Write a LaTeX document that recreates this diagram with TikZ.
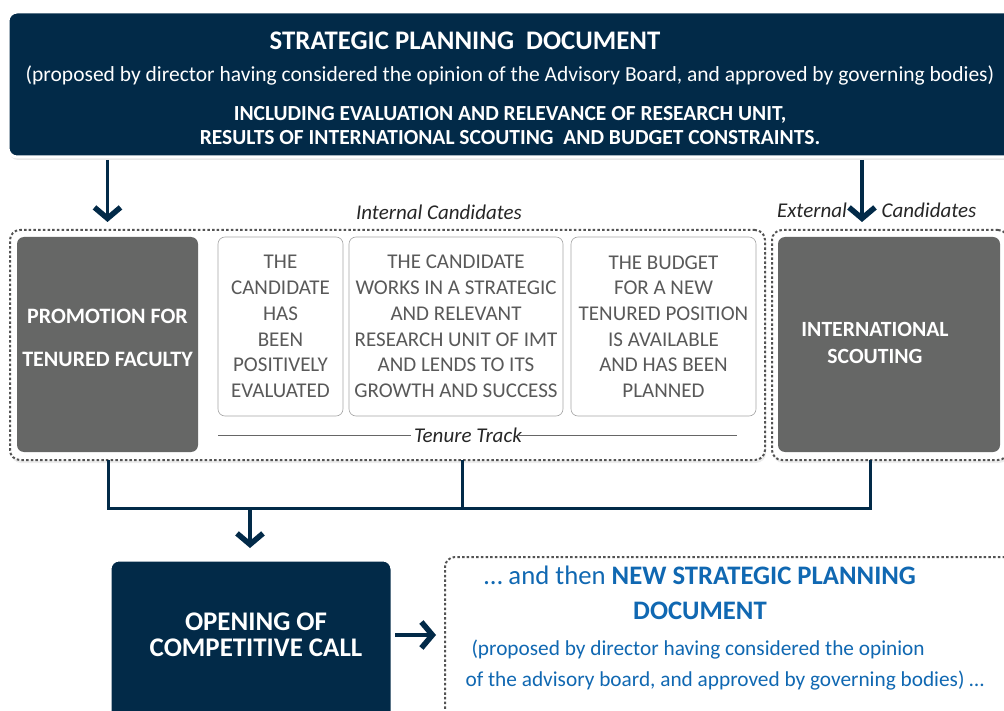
\documentclass[tikz,border=0pt]{standalone}
\usepackage{fontspec}
\setmainfont{Carlito}
\usetikzlibrary{arrows.meta,positioning,shadows}
\definecolor{navy}{RGB}{2,42,72}
\definecolor{slate}{RGB}{102,103,102}
\definecolor{inkgray}{RGB}{89,89,89}
\definecolor{linkblue}{RGB}{16,104,178}

\begin{document}
\begin{tikzpicture}[x=1pt, y=-1pt,
  navybox/.style={rectangle, fill=navy, draw=white, line width=3pt,
                  rounded corners=9pt, inner sep=0pt, outer sep=0pt,
                  drop shadow={opacity=0.18, shadow xshift=1pt, shadow yshift=-3pt}},
  graybox/.style={rectangle, fill=slate, rounded corners=7pt,
                  inner sep=0pt, outer sep=0pt},
  critbox/.style={rectangle, draw=gray!70, fill=white, line width=0.6pt,
                  rounded corners=7pt, inner sep=0pt, outer sep=0pt,
                  align=center, text=inkgray, font=\fontsize{21}{25.7}\selectfont},
  dotbox/.style={rectangle, draw=gray!65!black, line width=2pt,
                 dash pattern=on 2.5pt off 2.2pt, rounded corners=10pt,
                 fill=white, inner sep=0pt, outer sep=0pt,
                 drop shadow={opacity=0.15, shadow xshift=1pt, shadow yshift=-3pt}},
  whitetext/.style={text=white, align=center, font=\bfseries},
  tag/.style={font=\itshape\fontsize{21}{24}\selectfont, text=black!85},
  arr/.style={-{Straight Barb[length=11pt, width=26pt, line width=5.5pt]}, line width=3.5pt, color=navy},
  trunk/.style={line width=3pt, color=navy}
]
\useasboundingbox (0,0) rectangle (1004,711);
\clip (0,0) rectangle (1004,711);

% ── Strategic planning document ─────────────
\node[navybox, minimum width=1006pt, minimum height=145pt] (topdoc) at (511,84.5) {};
\node[whitetext, font=\bfseries\fontsize{26.8}{30}\selectfont] (toptitle) at (465,41)
  {STRATEGIC PLANNING\ \ DOCUMENT};
\node[text=white, font=\fontsize{21.5}{24}\selectfont] (topsub) at (510,75)
  {(proposed by director having considered the opinion of the Advisory Board, and approved by governing bodies)};
\node[whitetext, font=\bfseries\fontsize{21.5}{24}\selectfont] (topinc) at (510,126)
  {INCLUDING EVALUATION AND RELEVANCE OF RESEARCH UNIT,\\
   RESULTS OF INTERNATIONAL SCOUTING\ \ AND BUDGET CONSTRAINTS.};

% ── Candidate groups ─────────────
\node[dotbox, minimum width=755pt, minimum height=230pt] (intbox) at (387.5,345) {};
\node[dotbox, minimum width=236pt, minimum height=230pt] (extbox) at (890,345) {};
\node[tag] (intlab) at (439,212) {Internal Candidates};
\node[tag] (extlab1) at (812,210) {External};
\node[tag] (extlab2) at (929,210) {Candidates};

\node[graybox, minimum width=181pt, minimum height=215pt] (prom) at (107.5,344.5) {};
\node[whitetext, font=\bfseries\fontsize{22}{43}\selectfont] (promtext) at ([yshift=7pt]prom.center)
  {PROMOTION FOR\\TENURED FACULTY};

\node[critbox, minimum width=125pt, minimum height=179pt] (crit1) at (280.5,326.5)
  {THE\\CANDIDATE\\HAS\\BEEN\\POSITIVELY\\EVALUATED};
\node[critbox, minimum width=214pt, minimum height=179pt] (crit2) at (456,326.5)
  {THE CANDIDATE\\WORKS IN A STRATEGIC\\AND RELEVANT\\RESEARCH UNIT OF IMT\\AND LENDS TO ITS\\GROWTH AND SUCCESS};
\node[critbox, minimum width=185pt, minimum height=179pt] (crit3) at (663.5,326.5)
  {THE BUDGET\\FOR A NEW\\TENURED POSITION\\IS AVAILABLE\\AND HAS BEEN\\PLANNED};

\node[tag] (tenure) at (468,435) {Tenure Track};
\coordinate (ttleft) at (218,435);
\coordinate (ttright) at (737,435);
\draw[gray!80!black, line width=0.8pt] (ttleft) -- (tenure.west);
\draw[gray!80!black, line width=0.8pt] ([xshift=-6pt]tenure.east) -- (ttright);

\node[graybox, minimum width=222pt, minimum height=215pt] (scout) at (889,344.5) {};
\node[whitetext, font=\bfseries\fontsize{21.7}{27}\selectfont] (scouttext) at (875,342.5)
  {INTERNATIONAL\\SCOUTING};

% ── Competitive call ─────────────
\node[navybox, minimum width=282pt, minimum height=170pt] (call) at (251,645) {};
\node[whitetext, font=\bfseries\fontsize{26.9}{26}\selectfont] (calltext) at (256,635)
  {OPENING OF\\COMPETITIVE CALL};

\node[dotbox, drop shadow={opacity=0}, minimum width=570pt, minimum height=170pt] (newdoc) at (730,642) {};
\node[text=linkblue, align=center, font=\fontsize{26.7}{35}\selectfont] (newtitle) at (700,593)
  {\dots\ and then \textbf{NEW STRATEGIC PLANNING}\\\textbf{DOCUMENT}};
\node[text=linkblue, anchor=west, font=\fontsize{21.3}{24}\selectfont] (newsub1) at (468,650)
  {(proposed by director having considered the opinion};
\node[text=linkblue, anchor=west, font=\fontsize{21.3}{24}\selectfont] (newsub2) at (462,681)
  {of the advisory board, and approved by governing bodies) \dots};

% ── Connectors ─────────────
\coordinate (extin) at (862,222);
\coordinate (b1) at (108,508);
\coordinate (b2) at (462,508);
\coordinate (b3) at (870,508);
\coordinate (hub) at (250,508);
\draw[arr] ([yshift=-3pt]topdoc.south -| prom.north) -- ([yshift=8pt]prom.north |- intbox.north);
\draw[arr] ([yshift=-3pt]topdoc.south -| extin) -- (extin);
\draw[trunk] (b1 |- intbox.south) -- (b1) -- (b3) -- (b3 |- extbox.south);
\draw[trunk] (b2 |- intbox.south) -- (b2);
\draw[arr] (hub) -- ([yshift=12pt]call.north -| hub);
\draw[arr] ([xshift=3pt]call.east |- calltext) -- ([xshift=-9pt]newdoc.west |- calltext);
\end{tikzpicture}
\end{document}
